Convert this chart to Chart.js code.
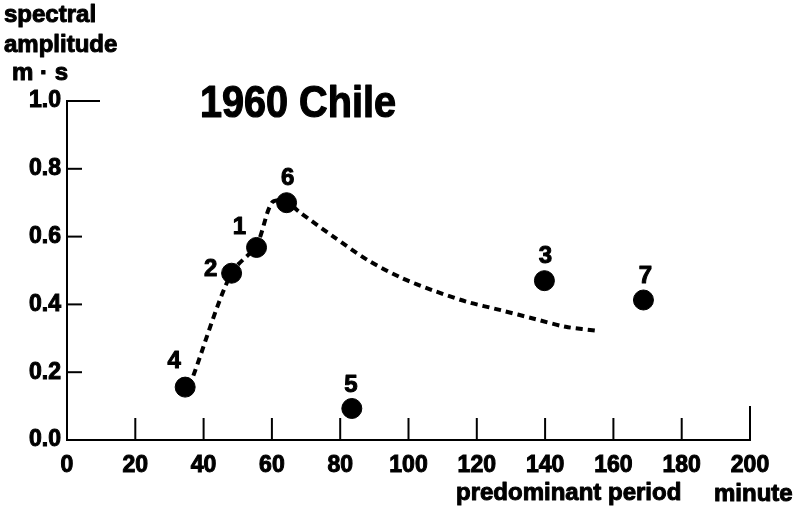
<!DOCTYPE html>
<html>
<head>
<meta charset="utf-8">
<script src="https://cdn.jsdelivr.net/npm/chart.js@4/dist/chart.umd.min.js"></script>
<style>
  body { margin: 0; background: #fff; }
  #wrap { width: 805px; height: 513px; }
</style>
</head>
<body>
<div id="wrap"><canvas id="myChart"></canvas></div>
<script>
// events 1..7
var eventNames = ['1', '2', '3', '4', '5', '6', '7'];
var periods = [55.5, 48.2, 139.8, 34.6, 83.4, 64.3, 168.8];
var amplitudes = [0.568, 0.492, 0.470, 0.156, 0.093, 0.700, 0.413];

// dashed trend curve
var curvePeriods = [37, 48, 55.5, 60, 64, 68, 78, 88, 98, 107, 117, 127, 137, 146, 155.5];
var curveAmps = [0.19, 0.49, 0.575, 0.70, 0.705, 0.673, 0.60, 0.531, 0.478, 0.442, 0.408, 0.383, 0.357, 0.334, 0.322];

var xTicks = [0, 20, 40, 60, 80, 100, 120, 140, 160, 180, 200];
var yTicks = [0.0, 0.2, 0.4, 0.6, 0.8, 1.0];

var FONT = '"Liberation Sans", Arial, Helvetica, sans-serif';

// where each number sits relative to its dot
var labelOffsets = [[-17, -20], [-21, -4], [1, -24], [-11, -26], [-1, -23], [1, -24], [2, -24]];

var pointData = periods.map(function (p, i) { return { x: p, y: amplitudes[i] }; });
var curveData = curvePeriods.map(function (p, i) { return { x: p, y: curveAmps[i] }; });

function heavyText(c, txt, x, y) {
    c.strokeText(txt, x, y);
    c.fillText(txt, x, y);
}

var extras = {
    id: 'extras',
    afterDraw: function (chart) {
        var c = chart.ctx;
        var xs = chart.scales.x, ys = chart.scales.y;
        var x0 = xs.getPixelForValue(0), y0 = ys.getPixelForValue(0);
        c.save();
        c.strokeStyle = '#000';
        c.lineWidth = 2;
        // inward tick marks
        xTicks.forEach(function (t) {
            if (t === 0) return;
            var px = xs.getPixelForValue(t);
            var len = t === 200 ? 34 : 22;
            c.beginPath(); c.moveTo(px, y0); c.lineTo(px, y0 - len); c.stroke();
        });
        yTicks.forEach(function (t) {
            if (t === 0) return;
            var py = ys.getPixelForValue(t);
            var len = t === 1.0 ? 33 : 15;
            c.beginPath(); c.moveTo(x0, py); c.lineTo(x0 + len, py); c.stroke();
        });

        c.fillStyle = '#000';
        c.lineWidth = 1;
        c.lineJoin = 'round';
        // event numbers
        c.font = 'bold 24px ' + FONT;
        c.textAlign = 'center';
        c.textBaseline = 'middle';
        var meta = chart.getDatasetMeta(1);
        meta.data.forEach(function (pt, i) {
            heavyText(c, eventNames[i], pt.x + labelOffsets[i][0], pt.y + labelOffsets[i][1]);
        });

        // title, a bit narrower than the plain font
        c.textAlign = 'left';
        c.textBaseline = 'alphabetic';
        c.save();
        c.translate(200, 117);
        c.scale(0.9, 1);
        c.font = 'bold 44px ' + FONT;
        c.lineWidth = 1.2;
        heavyText(c, '1960 Chile', 0, 0);
        c.restore();

        // axis titles
        c.font = 'bold 24px ' + FONT;
        heavyText(c, 'spectral', 4, 22);
        heavyText(c, 'amplitude', 4, 52);
        heavyText(c, 'm \u00b7 s', 12, 80);
        heavyText(c, 'predominant period', 456, 500);
        heavyText(c, 'minute', 714, 501);
        c.restore();
    }
};

var ctx = document.getElementById('myChart').getContext('2d');
var myChart = new Chart(ctx,
{
    type: 'scatter',
    data:
    {
        datasets:
        [
            {
                data: curveData,
                showLine: true,
                borderColor: '#000',
                borderWidth: 4,
                borderDash: [7, 5],
                pointRadius: 0,
                tension: 0.3,
                fill: false
            },
            {
                data: pointData,
                backgroundColor: '#000',
                borderColor: '#000',
                pointRadius: 10,
                pointHoverRadius: 10
            }
        ]
    },
    options:
    {
        responsive: true,
        maintainAspectRatio: false,
        animation: false,
        layout: { padding: { left: 0, top: 101, right: 55, bottom: 0 } },
        plugins:
        {
            legend: { display: false },
            tooltip: { enabled: false },
            title: { display: false }
        },
        scales:
        {
            x:
            {
                type: 'linear',
                min: 0,
                max: 200,
                afterFit: function (s) { s.height = 73; },
                afterBuildTicks: function (s) { s.ticks = xTicks.map(function (v) { return { value: v }; }); },
                ticks:
                {
                    color: '#000',
                    font: { family: FONT, size: 23, weight: 'bold' },
                    textStrokeColor: '#000',
                    textStrokeWidth: 1,
                    padding: 12,
                    maxRotation: 0
                },
                grid: { display: true, drawOnChartArea: false, drawTicks: false },
                border: { color: '#000', width: 2 }
            },
            y:
            {
                min: 0,
                max: 1,
                afterFit: function (s) { s.width = 67; },
                afterBuildTicks: function (s) { s.ticks = yTicks.map(function (v) { return { value: v }; }); },
                ticks:
                {
                    color: '#000',
                    font: { family: FONT, size: 23, weight: 'bold' },
                    textStrokeColor: '#000',
                    textStrokeWidth: 1,
                    padding: 6,
                    callback: function (v) { return v.toFixed(1); }
                },
                grid: { display: true, drawOnChartArea: false, drawTicks: false },
                border: { color: '#000', width: 2 }
            }
        }
    },
    plugins: [extras]
});
</script>
</body>
</html>
